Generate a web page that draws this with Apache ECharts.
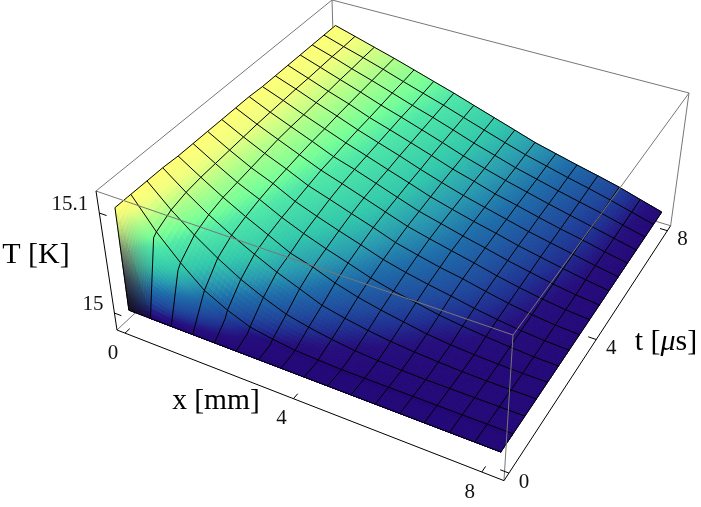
<!DOCTYPE html>
<html>
<head>
<meta charset="utf-8">
<title>T(x,t)</title>
<style>
  html, body { margin: 0; padding: 0; background: #fff; }
  #chart { width: 701px; height: 507px; }
</style>
<script src="https://cdn.jsdelivr.net/npm/echarts@6/dist/echarts.min.js"></script>
</head>
<body>
<div id="chart"></div>
<script>
// grid of the surface, x in mm, t in microseconds
const xValues = [0, 0.52, 1.03, 1.55, 2.07, 2.58, 3.1, 3.61, 4.13, 4.65, 5.16, 5.68, 6.2, 6.71, 7.23, 7.74, 8.26];
const tValues = [0, 0.02, 0.4, 0.5, 1, 1.5, 2, 2.5, 3, 3.5, 4, 4.5, 5, 5.5, 6, 6.5, 7, 7.5, 8];
// rise above 15 K in mK, one row per tValues entry
const riseMk = [
  [0, 0, 0, 0, 0, 0, 0, 0, 0, 0, 0, 0, 0, 0, 0, 0, 0],
  [102, 0, 0, 0, 0, 0, 0, 0, 0, 0, 0, 0, 0, 0, 0, 0, 0],
  [102, 70, 45, 24, 12, 5, 2, 1, 0, 0, 0, 0, 0, 0, 0, 0, 0],
  [102, 73, 50, 30, 18, 9, 5, 2, 1, 0, 0, 0, 0, 0, 0, 0, 0],
  [102, 81, 63.5, 48, 34.5, 24, 15, 10, 6, 3, 1.5, 0.5, 0, 0, 0, 0, 0],
  [102, 85, 70, 57, 45.5, 35, 26, 17, 12, 8, 5, 3, 1.5, 0.5, 0, 0, 0],
  [101, 87, 74, 62, 51, 40, 33.5, 25, 18.5, 13.5, 9.5, 5.5, 3, 1.5, 0.5, 0, 0],
  [101, 88, 76, 66, 55, 46, 38, 31, 23.5, 18, 14, 9.5, 6.5, 4, 2, 0.5, 0],
  [101, 89, 78, 69, 58, 50, 42.5, 35.5, 28, 22.5, 18, 14, 9.5, 6, 3, 1, 0],
  [101, 90, 80, 71, 61, 54, 46.5, 39.5, 31.5, 26, 21, 17, 12, 7.5, 4, 1.5, 0],
  [101, 91, 82, 73, 64, 57, 49.5, 42, 34.5, 29, 24, 19, 13.5, 9, 5, 2, 0],
  [101, 91.5, 83, 74.5, 65.5, 59, 51.5, 44, 36.5, 31, 25.5, 20.5, 15, 10.5, 6, 2.5, 0],
  [100, 92, 83.5, 75.5, 67.5, 60.5, 53, 46, 38.5, 32.5, 27, 22, 16.5, 12, 7.5, 3.5, 0],
  [100, 92.5, 84.5, 77, 69, 62, 55, 47.5, 40.5, 34, 28.5, 23, 17.5, 13, 8.5, 4, 0],
  [100, 92.5, 85, 78, 70, 63.5, 56.5, 49.5, 42, 36, 29.5, 24.5, 19, 14, 9.5, 4.5, 0],
  [100, 93, 86, 79, 71.5, 65, 58, 51, 43.5, 37, 31, 25.5, 20, 15, 10, 5, 0],
  [100, 93.5, 86.5, 80, 73, 66, 59.5, 52.5, 45, 38.5, 32, 26.5, 21, 16, 11, 5.5, 0],
  [100, 93.5, 87.5, 81, 74, 67.5, 61, 54, 47, 40, 33.5, 28, 22.5, 17.5, 12, 6, 0],
  [100, 94, 88, 82, 75.5, 69, 62.5, 55.5, 48.5, 41.5, 34.5, 29, 23.5, 18.5, 13, 6.5, 0]
];
const xTicks = [0, 4, 8];
const tTicks = [0, 4, 8];
const tempTicks = [15, 15.1];
const tempTickLabels = ['15', '15.1'];

// first row index that is on the regular mesh (the rows before it are the steep wall)
const firstMeshRow = 3;

const serif = '"Liberation Serif", serif';

// colour ramp of the surface, position = rise / 100 mK
const rampStops = [0, 0.04, 0.09, 0.14, 0.25, 0.34, 0.45, 0.62, 0.7, 0.8, 0.92, 1];
const rampColors = [
  [36, 10, 120], [38, 14, 125], [32, 48, 145], [32, 72, 156], [31, 110, 170], [42, 155, 176], [51, 200, 172],
  [80, 232, 168], [120, 255, 152], [168, 255, 140], [240, 255, 128], [255, 255, 120]
];
// same idea for the shaded wall near x=0
const wallColors = [
  [16, 16, 28], [20, 20, 33], [24, 22, 38], [30, 28, 45], [48, 46, 60], [60, 60, 70], [85, 88, 84],
  [125, 135, 105], [150, 170, 115], [185, 215, 125], [235, 245, 122], [255, 255, 120]
];

function lerpRamp(colors, f) {
  f = Math.max(0, Math.min(1, f));
  let k = 0;
  while (k < rampStops.length - 2 && f > rampStops[k + 1]) k++;
  const s = (f - rampStops[k]) / (rampStops[k + 1] - rampStops[k]);
  return colors[k].map((c, n) => c + (colors[k + 1][n] - c) * s);
}

function rgb(c) {
  return 'rgb(' + Math.round(c[0]) + ',' + Math.round(c[1]) + ',' + Math.round(c[2]) + ')';
}

// camera of the 3D box, unit cube -> pixels
function projectUnit(xn, tn, zn) {
  const w = 1.07465 - 0.12288 * xn + 0.22864 * tn - 0.07465 * zn;
  return [
    (125.73 + 353.96 * xn + 311.91 * tn - 29.73 * zn) / w,
    (354.63 + 102.84 * xn - 191 * tn - 163.63 * zn) / w
  ];
}

function xToUnit(x) { return 0.0233 + x * 0.1157; }
function tToUnit(t) { return 0.024 + t * 0.119; }
function tempToUnit(temp) { return 0.13 + (temp - 15) * 7.21; }

function project(x, t, rise) {
  return projectUnit(xToUnit(x), tToUnit(t), tempToUnit(15 + rise / 1000));
}

// surface cells, far ones first so the wall is painted last
const cells = [];
for (let j = tValues.length - 2; j >= 0; j--) {
  for (let i = 0; i < xValues.length - 1; i++) {
    cells.push([i, j]);
  }
}

function surfaceAt(i, j, u, v) {
  const r = (1 - u) * (1 - v) * riseMk[j][i] + u * (1 - v) * riseMk[j][i + 1] +
    (1 - u) * v * riseMk[j + 1][i] + u * v * riseMk[j + 1][i + 1];
  const x = xValues[i] + (xValues[i + 1] - xValues[i]) * u;
  const t = tValues[j] + (tValues[j + 1] - tValues[j]) * v;
  return { x: x, t: t, r: r };
}

function renderCell(params, api) {
  const i = cells[params.dataIndex][0];
  const j = cells[params.dataIndex][1];
  const n = j < firstMeshRow ? 16 : 6;
  const children = [];
  for (let a = 0; a < n; a++) {
    for (let b = 0; b < n; b++) {
      const corners = [[a, b], [a + 1, b], [a + 1, b + 1], [a, b + 1]].map(p => {
        const s = surfaceAt(i, j, p[0] / n, p[1] / n);
        return api.coord(project(s.x, s.t, s.r));
      });
      const u = (a + 0.5) / n;
      const v = (b + 0.5) / n;
      const f = surfaceAt(i, j, u, v).r / 100;
      let color = lerpRamp(rampColors, f);
      if (i === 0 && j < 2) {
        const weight = j === 0 ? 1 - u * 0.6 : (1 - v) * (1 - u * 0.7);
        const dark = lerpRamp(wallColors, f);
        color = color.map((c, k) => c + (dark[k] - c) * weight);
      }
      const fill = rgb(color);
      children.push({
        type: 'polygon',
        shape: { points: corners },
        style: { fill: fill, stroke: fill, lineWidth: 1 }
      });
    }
  }
  return { type: 'group', children: children };
}

// mesh lines and boundary
const meshLines = [];
xValues.forEach((x, i) => {
  meshLines.push(tValues.map((t, j) => [x, t, riseMk[j][i]]));
});
tValues.forEach((t, j) => {
  if (j >= firstMeshRow || j === 0) {
    meshLines.push(xValues.map((x, i) => [x, t, riseMk[j][i]]));
  }
});

// box edges in unit coordinates
const backEdges = [
  [[0, 0, 0], [0, 1, 0]],
  [[0, 1, 0], [1, 1, 0]],
  [[0, 1, 0], [0, 1, 1]]
];
const greyEdges = [
  [[0, 0, 1], [0, 1, 1]],
  [[0, 1, 1], [1, 1, 1]],
  [[1, 1, 1], [1, 1, 0]],
  [[0, 0, 1], [1, 0, 1]],
  [[1, 0, 1], [1, 1, 1]],
  [[1, 0, 1], [1, 0, 0]]
];
const axisEdges = [
  [[0, 0, 0], [1, 0, 0]],
  [[1, 0, 0], [1, 1, 0]],
  [[0, 0, 0], [0, 0, 1]]
];
xTicks.forEach(v => axisEdges.push([[xToUnit(v), 0, 0], [xToUnit(v), 0.018, 0]]));
tTicks.forEach(v => axisEdges.push([[1, tToUnit(v), 0], [0.98, tToUnit(v), 0]]));
tempTicks.forEach(v => axisEdges.push([[0, 0, tempToUnit(v)], [0.02, 0, tempToUnit(v)]]));

function edgeSeries(edges, color, width) {
  return {
    type: 'custom',
    coordinateSystem: 'cartesian2d',
    silent: true,
    clip: false,
    animation: false,
    data: edges.map((e, k) => [k]),
    renderItem(params, api) {
      const e = edges[params.dataIndex];
      return {
        type: 'polyline',
        shape: { points: e.map(p => api.coord(projectUnit(p[0], p[1], p[2]))) },
        style: { fill: null, stroke: color, lineWidth: width }
      };
    }
  };
}

// tick labels, placed off the tick they belong to
const tickLabels = [];
xTicks.forEach(v => {
  const p = projectUnit(xToUnit(v), 0, 0);
  tickLabels.push({ text: String(v), x: p[0] - 12, y: p[1] + 20, align: 'center' });
});
tTicks.forEach(v => {
  const p = projectUnit(1, tToUnit(v), 0);
  tickLabels.push({ text: String(v), x: p[0] + 15, y: p[1] + 9, align: 'center' });
});
tempTicks.forEach((v, k) => {
  const p = projectUnit(0, 0, tempToUnit(v));
  tickLabels.push({ text: tempTickLabels[k], x: p[0] - 11, y: p[1] - 9, align: 'right' });
});

const chart = echarts.init(document.getElementById('chart'), null, { renderer: 'canvas' });

chart.setOption({
  animation: false,
  backgroundColor: '#fff',
  grid: { left: 0, right: 0, top: 0, bottom: 0 },
  xAxis: { type: 'value', min: 0, max: 701, show: false },
  yAxis: { type: 'value', min: 0, max: 507, inverse: true, show: false },
  series: [
    edgeSeries(backEdges, '#777', 1),
    {
      type: 'custom',
      coordinateSystem: 'cartesian2d',
      silent: true,
      clip: false,
      animation: false,
      progressive: 0,
      data: cells,
      renderItem: renderCell
    },
    {
      type: 'custom',
      coordinateSystem: 'cartesian2d',
      silent: true,
      clip: false,
      animation: false,
      data: meshLines.map((l, k) => [k]),
      renderItem(params, api) {
        const line = meshLines[params.dataIndex];
        return {
          type: 'polyline',
          shape: { points: line.map(p => api.coord(project(p[0], p[1], p[2]))) },
          style: { fill: null, stroke: '#000', lineWidth: 1 }
        };
      }
    },
    edgeSeries(greyEdges, '#777', 1),
    edgeSeries(axisEdges, '#000', 1),
    {
      type: 'custom',
      coordinateSystem: 'cartesian2d',
      silent: true,
      clip: false,
      animation: false,
      data: tickLabels.map((l, k) => [k]),
      renderItem(params, api) {
        const l = tickLabels[params.dataIndex];
        const p = api.coord([l.x, l.y]);
        return {
          type: 'text',
          x: p[0],
          y: p[1],
          style: {
            text: l.text,
            fill: '#111',
            fontSize: 21,
            fontFamily: serif,
            align: l.align,
            verticalAlign: 'middle'
          }
        };
      }
    }
  ],
  graphic: [
    { type: 'text', x: 36, y: 255, style: { text: 'T [K]', fill: '#000', fontSize: 30, fontFamily: serif, align: 'center', verticalAlign: 'middle' } },
    { type: 'text', x: 216, y: 401, style: { text: 'x [mm]', fill: '#000', fontSize: 29.5, fontFamily: serif, align: 'center', verticalAlign: 'middle' } },
    {
      type: 'text', x: 666, y: 342,
      style: {
        text: 't [{m|μ}s]', fill: '#000', fontSize: 30, fontFamily: serif, align: 'center', verticalAlign: 'middle',
        rich: { m: { fontStyle: 'italic', fontSize: 30, fontFamily: serif, fill: '#000' } }
      }
    }
  ]
});
</script>
</body>
</html>
